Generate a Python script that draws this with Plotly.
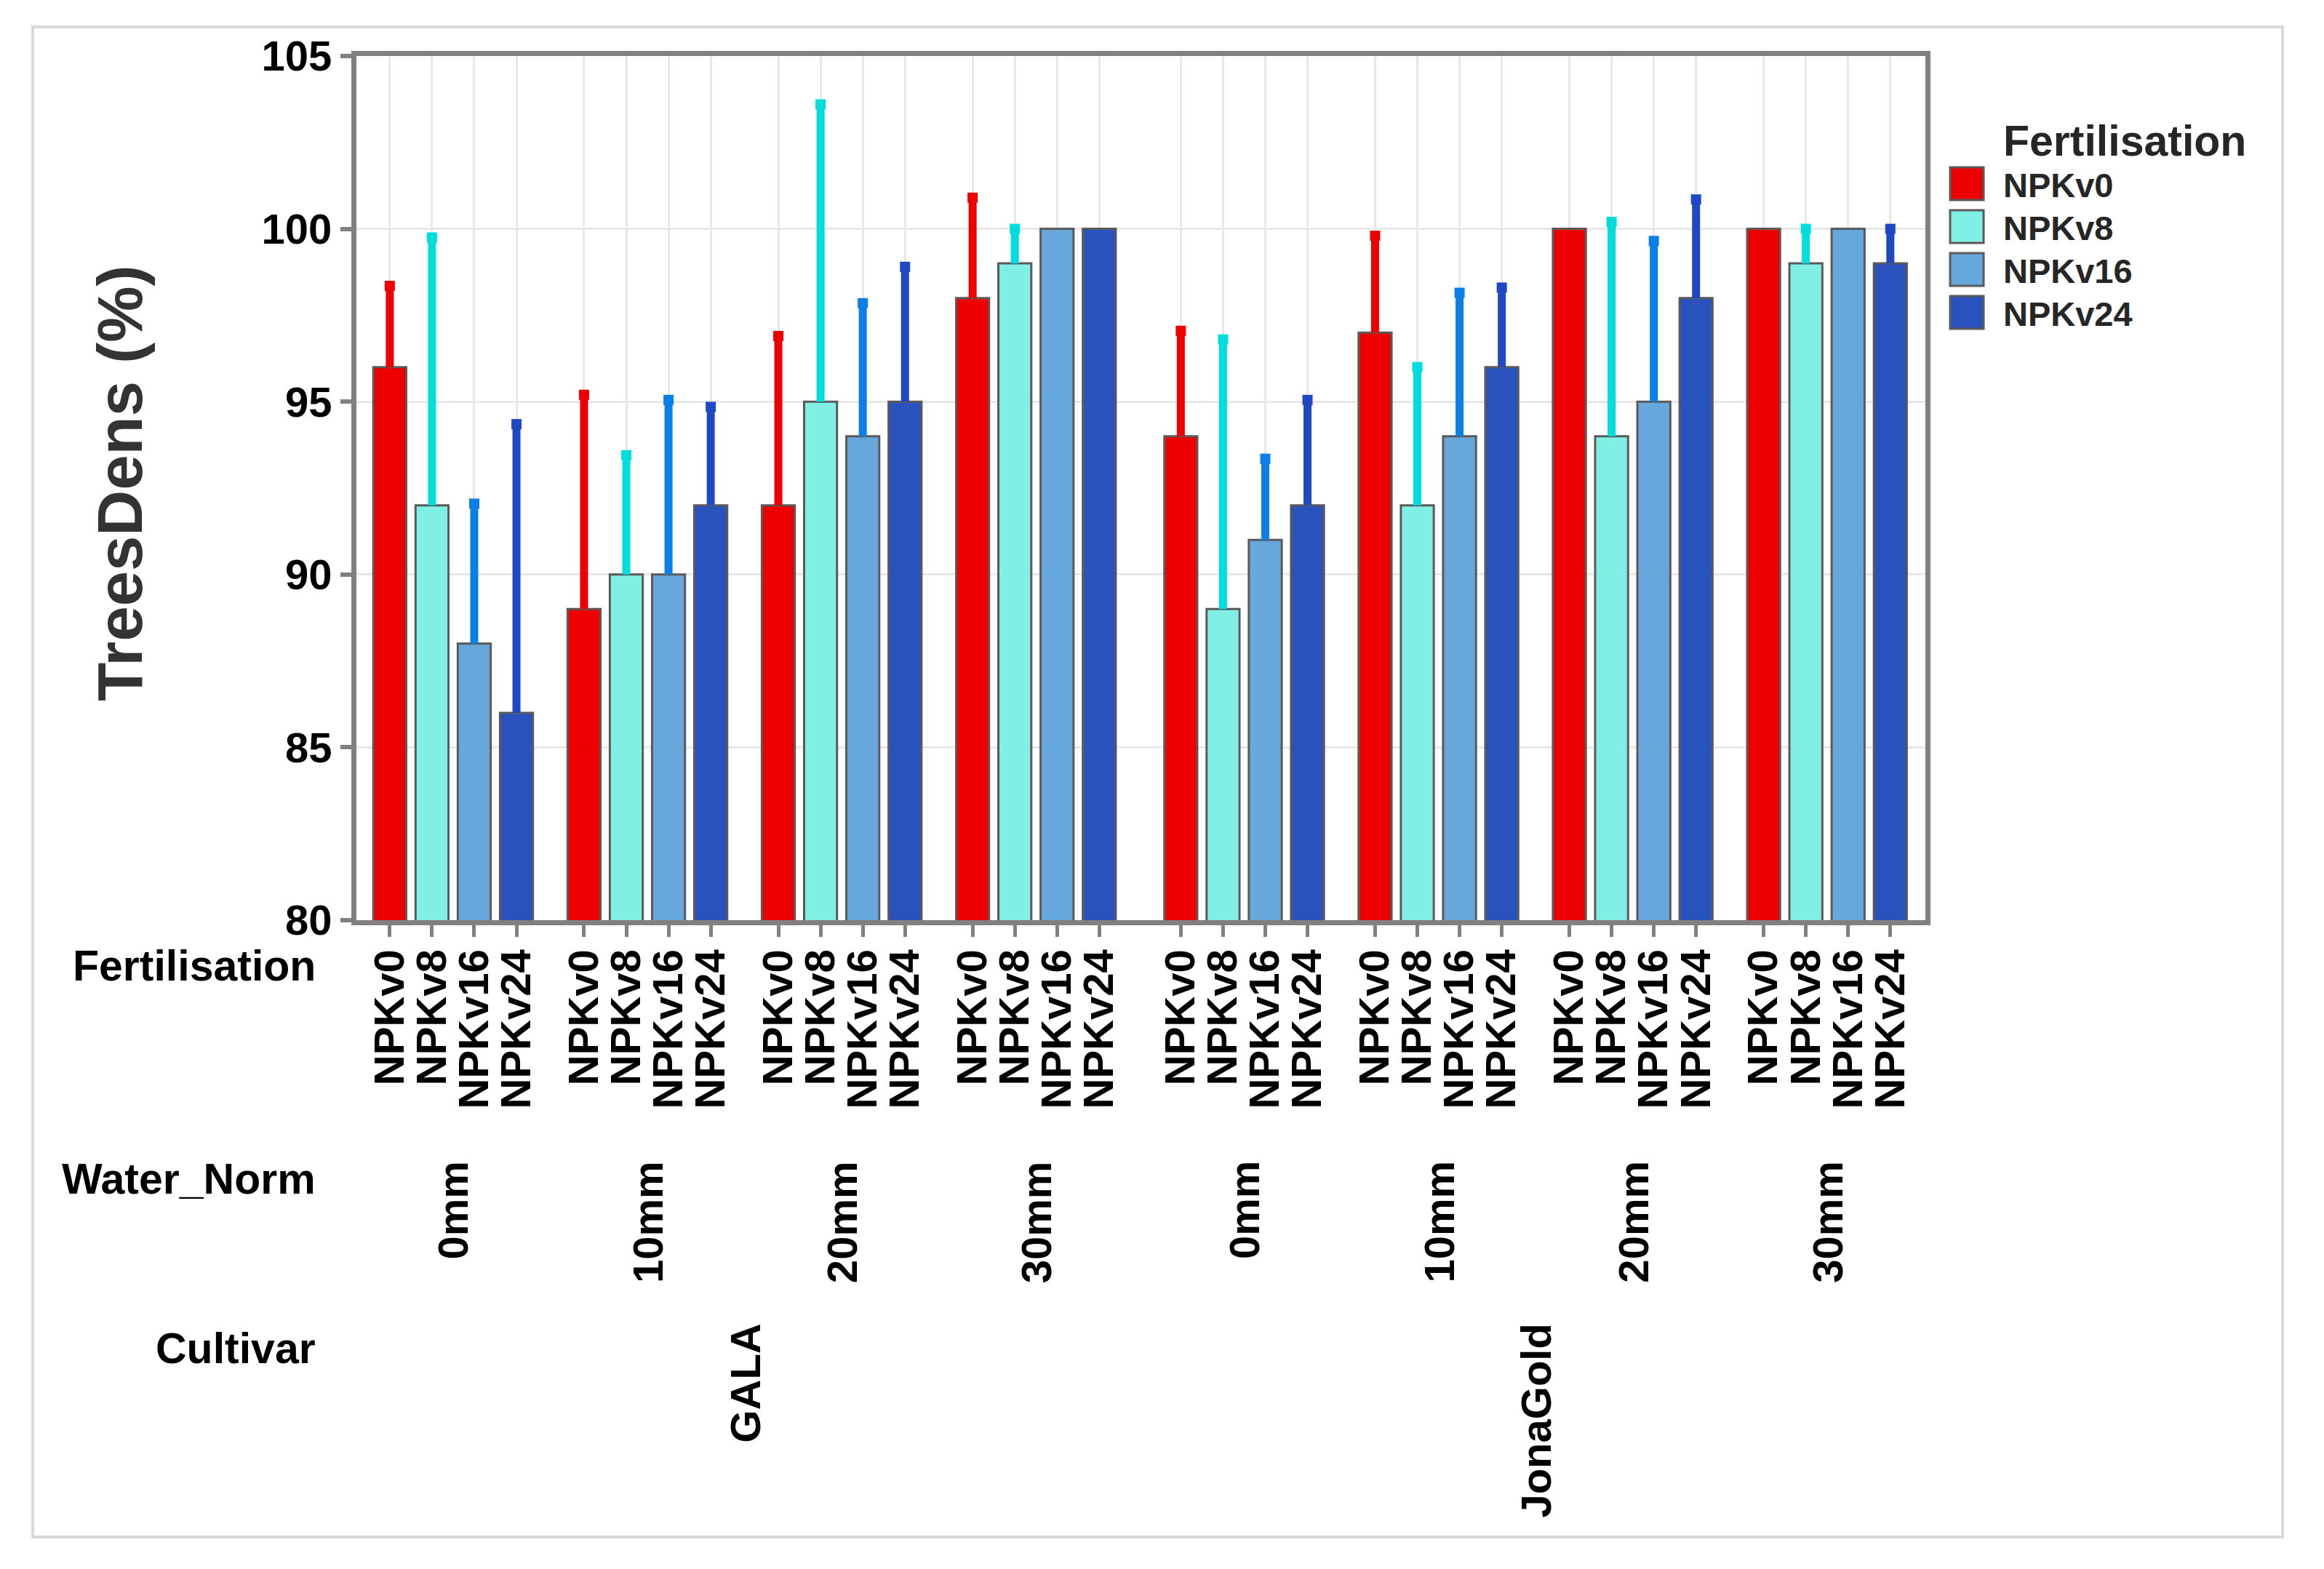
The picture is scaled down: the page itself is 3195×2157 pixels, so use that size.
import plotly.graph_objects as go

# ---------------- data ----------------
fertilisation = ["NPKv0", "NPKv8", "NPKv16", "NPKv24"]
water_norm = ["0mm", "10mm", "20mm", "30mm"]
cultivars = ["GALA", "JonaGold"]

# values ordered: GALA 0,10,20,30 mm then JonaGold 0,10,20,30 mm
npkv0 = [96, 89, 92, 98, 94, 97, 100, 100]
npkv0_err = [2.35, 6.2, 4.9, 2.9, 3.05, 2.8, 0, 0]
npkv8 = [92, 90, 95, 99, 89, 92, 94, 99]
npkv8_err = [7.75, 3.45, 8.6, 1.0, 7.8, 4.0, 6.2, 1.0]
npkv16 = [88, 90, 94, 100, 91, 94, 95, 100]
npkv16_err = [4.05, 5.05, 3.85, 0, 2.35, 4.15, 4.65, 0]
npkv24 = [86, 92, 95, 100, 92, 96, 98, 99]
npkv24_err = [8.35, 2.85, 3.9, 0, 3.05, 2.3, 2.85, 1.0]

y_ticks = [80, 85, 90, 95, 100, 105]

series_values = [npkv0, npkv8, npkv16, npkv24]
series_errors = [npkv0_err, npkv8_err, npkv16_err, npkv24_err]

# ---------------- styles ----------------
bar_colors = ["#ee0000", "#80efe4", "#66a7dc", "#2a52be"]
err_colors = ["#ee0000", "#00dddd", "#0a7fe8", "#1f48c4"]
FONT = "Liberation Sans, Arial, sans-serif"

W, H = 3195, 2157
OFF = 8  # default page body margin
L, R, T, B = 490 - OFF, 2647 - OFF, 77 - OFF, 1265 - OFF
PW, PH = R - L, B - T


def px_x(px):
    return (px - OFF - L) / PW


def px_y(py):
    return 1 - (py - OFF - T) / PH


GROUP_STEP = 4.6
CULTIVAR_GAP = 0.33
BAR_W = 0.78

n_w = len(water_norm)
positions = []  # positions[f][k]
for f in range(len(fertilisation)):
    row = []
    for k in range(len(cultivars) * n_w):
        c = k // n_w
        row.append(k * GROUP_STEP + c * CULTIVAR_GAP + f)
    positions.append(row)

fig = go.Figure()

for f, name in enumerate(fertilisation):
    fig.add_trace(go.Bar(
        x=positions[f], y=series_values[f], width=BAR_W, name=name,
        marker=dict(color=bar_colors[f], line=dict(color="#5a5a5a", width=3)),
        showlegend=False,
    ))

for f, name in enumerate(fertilisation):
    xs, ys, cx, cy = [], [], [], []
    for x, v, e in zip(positions[f], series_values[f], series_errors[f]):
        if e > 0:
            xs += [x, x, None]
            ys += [v, v + e, None]
            cx.append(x)
            cy.append(v + e)
    fig.add_trace(go.Scatter(x=xs, y=ys, mode="lines",
                             line=dict(color=err_colors[f], width=11),
                             showlegend=False, hoverinfo="skip"))
    fig.add_trace(go.Scatter(x=cx, y=cy, mode="markers",
                             marker=dict(symbol="square", size=14, color=err_colors[f],
                                         line=dict(width=0)),
                             showlegend=False, hoverinfo="skip"))

# tick values at every bar
tickvals, ticktext = [], []
for k in range(len(cultivars) * n_w):
    for f in range(len(fertilisation)):
        tickvals.append(positions[f][k])
        ticktext.append(fertilisation[f])

last = positions[-1][-1]
fig.update_xaxes(
    range=[-0.79, last + 0.83], tickvals=tickvals, ticktext=ticktext,
    tickangle=-90, tickfont=dict(family=FONT, size=58, color="black", weight="bold"),
    ticklabelstandoff=-6,
    showgrid=True, gridcolor="#e8e8e8", gridwidth=3,
    showline=True, linecolor="#808080", linewidth=7, mirror=True,
    ticks="outside", ticklen=16, tickwidth=5, tickcolor="#808080",
    zeroline=False,
)
fig.update_yaxes(
    range=[80, 105], tickvals=y_ticks,
    tickfont=dict(family=FONT, size=58, color="black", weight="bold"),
    showgrid=True, gridcolor="#e8e8e8", gridwidth=3,
    showline=True, linecolor="#808080", linewidth=7, mirror=True,
    ticks="outside", ticklen=15, tickwidth=6, tickcolor="#808080",
    zeroline=False,
)

annotations = []
# y-axis title
annotations.append(dict(
    text="TreesDens (%)", textangle=-90, xref="paper", yref="paper",
    x=px_x(164), y=px_y(664), xanchor="center", yanchor="middle", showarrow=False,
    font=dict(family=FONT, size=87, color="#333333", weight="bold"),
))
# row labels
for label, py in [("Fertilisation", 1328), ("Water_Norm", 1621), ("Cultivar", 1854)]:
    annotations.append(dict(
        text=label, xref="paper", yref="paper", x=px_x(436), y=px_y(py),
        xanchor="right", yanchor="middle", showarrow=False,
        font=dict(family=FONT, size=59, color="black", weight="bold"),
    ))
# water norm labels
for k in range(len(cultivars) * n_w):
    cx = (positions[0][k] + positions[-1][k]) / 2
    annotations.append(dict(
        text=water_norm[k % n_w], textangle=-90, xref="x", yref="paper",
        x=cx, y=px_y(1594), xanchor="center", yanchor="top", showarrow=False,
        font=dict(family=FONT, size=58, color="black", weight="bold"),
    ))
# cultivar labels
for c, cname in enumerate(cultivars):
    cx = (positions[0][c * n_w] + positions[-1][c * n_w + n_w - 1]) / 2
    annotations.append(dict(
        text=cname, textangle=-90, xref="x", yref="paper",
        x=cx, y=px_y(1818), xanchor="center", yanchor="top", showarrow=False,
        font=dict(family=FONT, size=58, color="black", weight="bold"),
    ))

# manual legend
shapes = []
annotations.append(dict(
    text="Fertilisation", xref="paper", yref="paper", x=px_x(2752), y=px_y(194),
    xanchor="left", yanchor="middle", showarrow=False,
    font=dict(family=FONT, size=59, color="#262626", weight="bold"),
))
for f, name in enumerate(fertilisation):
    cy = 252.5 + f * 59
    shapes.append(dict(
        type="rect", xref="paper", yref="paper",
        x0=px_x(2681), x1=px_x(2727), y0=px_y(cy - 22.5), y1=px_y(cy + 22.5),
        fillcolor=bar_colors[f], line=dict(color="#5a5a5a", width=3),
    ))
    annotations.append(dict(
        text=name, xref="paper", yref="paper", x=px_x(2752), y=px_y(cy + 2),
        xanchor="left", yanchor="middle", showarrow=False,
        font=dict(family=FONT, size=47, color="#262626", weight="bold"),
    ))

# outer frame
shapes.append(dict(
    type="rect", xref="paper", yref="paper",
    x0=px_x(45), x1=px_x(3138), y0=px_y(2113), y1=px_y(37),
    line=dict(color="#d9d9d9", width=4), fillcolor="rgba(0,0,0,0)", layer="below",
))

fig.update_layout(
    width=W, height=H,
    margin=dict(l=L, r=W - R, t=T, b=H - B, pad=0),
    paper_bgcolor="white", plot_bgcolor="white",
    barmode="overlay", showlegend=False,
    annotations=annotations, shapes=shapes,
    font=dict(family=FONT),
)

fig.write_html("out.html")
